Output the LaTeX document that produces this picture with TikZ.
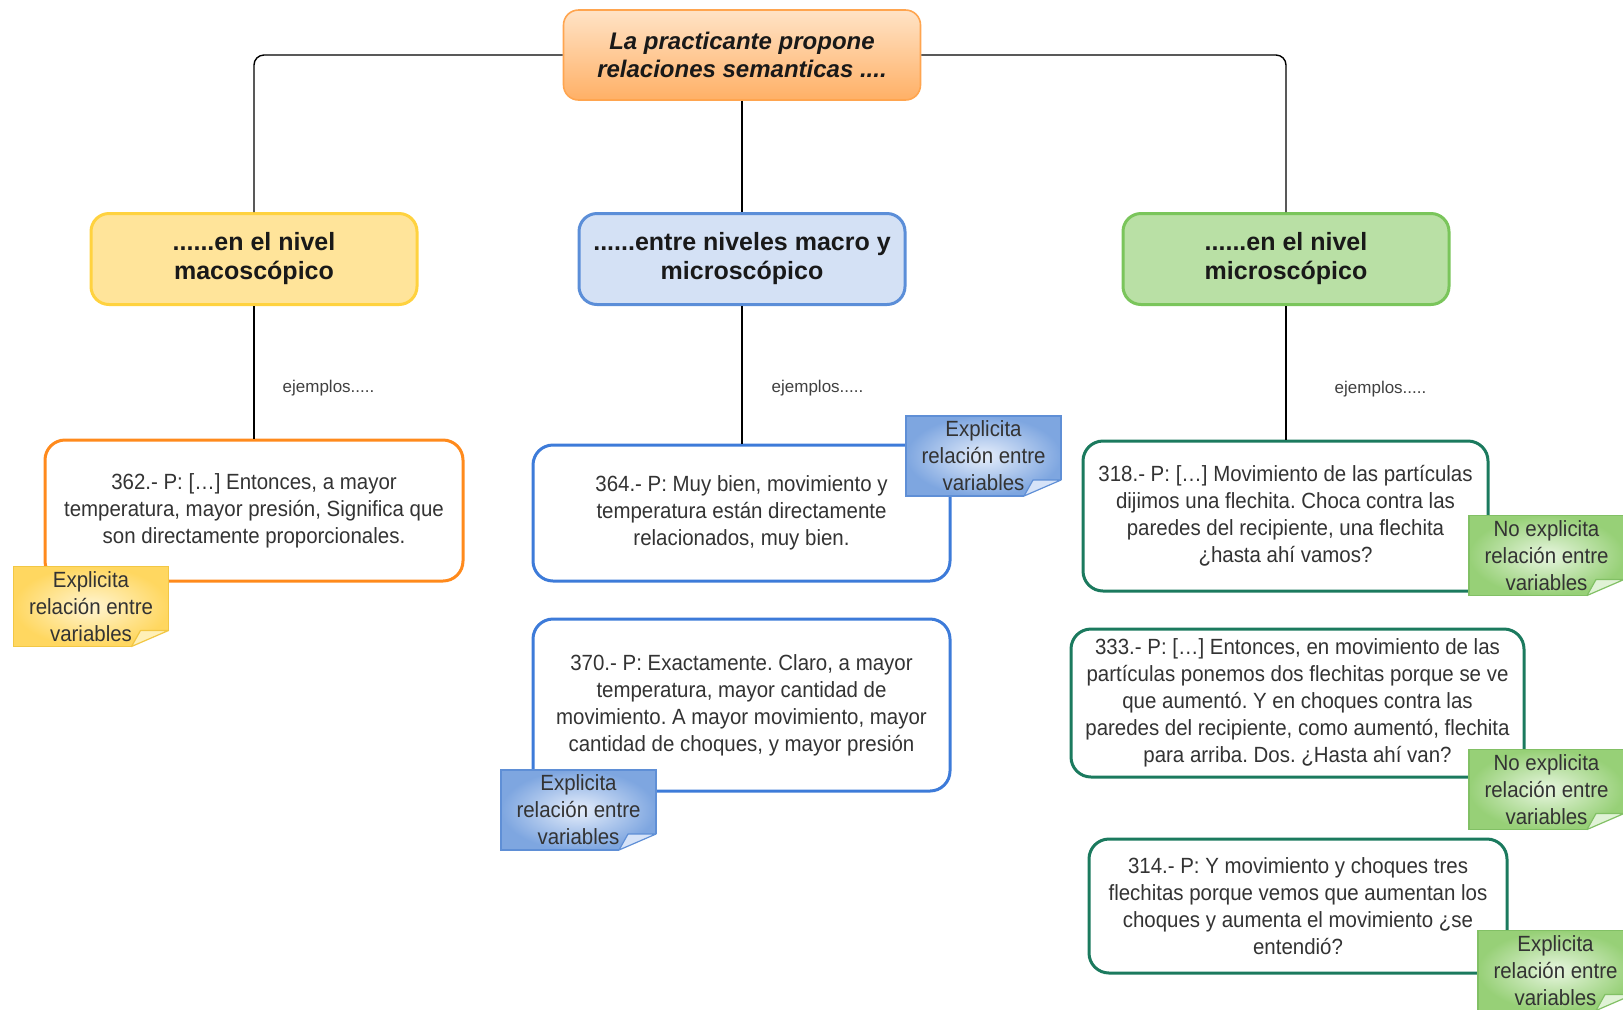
\documentclass[tikz,border=0pt]{standalone}
\usepackage{fontspec}
\setmainfont{Liberation Sans}
\newfontfamily\narrowfont[FakeStretch=0.93]{Liberation Sans}
\usepackage{tikz}
\usetikzlibrary{positioning}
\usepackage{xcolor}
\frenchspacing

\definecolor{topline}{HTML}{FFA54F}
\definecolor{topfillA}{HTML}{FFE3C6}
\definecolor{topfillB}{HTML}{FFB066}
\definecolor{macroline}{HTML}{FFD23F}
\definecolor{macrofill}{HTML}{FFE49A}
\definecolor{bothline}{HTML}{5B8ED8}
\definecolor{bothfill}{HTML}{D4E1F5}
\definecolor{microline}{HTML}{7AC55B}
\definecolor{microfill}{HTML}{B9E0A5}
\definecolor{quoteorange}{HTML}{FF8A1C}
\definecolor{quoteblue}{HTML}{3D7BD9}
\definecolor{quotegreen}{HTML}{1B7A5E}
\definecolor{lineY}{HTML}{F2C744}
\definecolor{innerY}{HTML}{FFF5D2}
\definecolor{outerY}{HTML}{FFD760}
\definecolor{foldY}{HTML}{FFF0B8}
\definecolor{lineB}{HTML}{5F8FD6}
\definecolor{innerB}{HTML}{E6EEFB}
\definecolor{outerB}{HTML}{7EA6E0}
\definecolor{foldB}{HTML}{D6E3F8}
\definecolor{lineG}{HTML}{82C065}
\definecolor{innerG}{HTML}{E8F6E0}
\definecolor{outerG}{HTML}{97D077}
\definecolor{foldG}{HTML}{E0F2D6}

\begin{document}
\begin{tikzpicture}[x=0.5pt, y=-0.5pt]
    \tikzstyle{topbox} = [rectangle, draw=topline, line width=0.8pt, top color=topfillA, bottom color=topfillB, rounded corners=7.5pt, minimum width=178.5pt, minimum height=45pt, align=center, text=black!90, font=\fontsize{12}{14}\selectfont\bfseries\itshape]
    \tikzstyle{levelbox} = [rectangle, line width=1.5pt, rounded corners=9pt, minimum width=163pt, minimum height=45.5pt, align=center, text=black!90, font=\fontsize{12.5}{14.5}\selectfont\bfseries]
    \tikzstyle{quotebox} = [rectangle, fill=white, line width=1.5pt, rounded corners=10pt, align=center, text=black!80, font=\narrowfont\fontsize{11}{13.5}\selectfont]
    \tikzstyle{notebox} = [rectangle, line width=0.6pt, minimum width=77.5pt, minimum height=40pt, inner sep=0pt, outer sep=0pt, align=center, text=black!80, font=\narrowfont\fontsize{11}{13.5}\selectfont]
    \tikzstyle{link} = [draw, line width=0.7pt, rounded corners=5pt]
    \tikzstyle{lbl} = [anchor=west, inner sep=0pt, text=black!75, font=\fontsize{8.5}{10}\selectfont]

    \clip (0,0) rectangle (1623,1009);

    % main node and levels
    \node[topbox] (top) at (742,55) {La practicante propone\\relaciones semanticas ....};
    \node[levelbox, draw=macroline, fill=macrofill] (macro) at (254,259) {......en el nivel\\macoscópico};
    \node[levelbox, draw=bothline, fill=bothfill] (both) at (742,259) {......entre niveles macro y\\microscópico};
    \node[levelbox, draw=microline, fill=microfill] (micro) at (1286,259) {......en el nivel\\microscópico};

    % examples
    \node[quotebox, draw=quoteorange, minimum width=209pt, minimum height=70.5pt] (q362) at (254,510.5) {362.- P: […] Entonces, a mayor\\temperatura, mayor presión, Significa que\\son directamente proporcionales.};
    \node[quotebox, draw=quoteblue, minimum width=208.5pt, minimum height=68pt] (q364) at (741.5,513) {364.- P: Muy bien, movimiento y\\temperatura están directamente\\relacionados, muy bien.};
    \node[quotebox, draw=quoteblue, minimum width=208.5pt, minimum height=86pt] (q370) at (741.5,705) {370.- P: Exactamente. Claro, a mayor\\temperatura, mayor cantidad de\\movimiento. A mayor movimiento, mayor\\cantidad de choques, y mayor presión};
    \node[quotebox, draw=quotegreen, minimum width=202.5pt, minimum height=75pt] (q318) at (1285.5,516) {318.- P: […] Movimiento de las partículas\\dijimos una flechita. Choca contra las\\paredes del recipiente, una flechita\\¿hasta ahí vamos?};
    \node[quotebox, draw=quotegreen, minimum width=226.5pt, minimum height=74pt] (q333) at (1297.5,703) {333.- P: […] Entonces, en movimiento de las\\partículas ponemos dos flechitas porque se ve\\que aumentó. Y en choques contra las\\paredes del recipiente, como aumentó, flechita\\para arriba. Dos. ¿Hasta ahí van?};
    \node[quotebox, draw=quotegreen, minimum width=209pt, minimum height=67pt] (q314) at (1298,906) {314.- P: Y movimiento y choques tres\\flechitas porque vemos que aumentan los\\choques y aumenta el movimiento ¿se\\entendió?};

    % notes
    \node[notebox, draw=lineY, inner color=innerY, outer color=outerY] (nA) at (91,606.5) {Explicita\\relación entre\\variables};
    \node[notebox, draw=lineB, inner color=innerB, outer color=outerB] (nB) at (983.5,456) {Explicita\\relación entre\\variables};
    \node[notebox, draw=lineB, inner color=innerB, outer color=outerB] (nC) at (578.5,810) {Explicita\\relación entre\\variables};
    \node[notebox, draw=lineG, inner color=innerG, outer color=outerG] (nD) at (1546.5,555.5) {No explicita\\relación entre\\variables};
    \node[notebox, draw=lineG, inner color=innerG, outer color=outerG] (nE) at (1546.5,789.5) {No explicita\\relación entre\\variables};
    \node[notebox, draw=lineG, inner color=innerG, outer color=outerG] (nF) at (1555.5,970.5) {Explicita\\relación entre\\variables};

    % folded corners
    \foreach \n/\c in {nA/Y, nB/B, nC/B, nD/G, nE/G, nF/G} {
        \fill[white] ([xshift=-18.5pt, yshift=-1pt]\n.south east) -- ([xshift=1pt, yshift=-1pt]\n.south east) -- ([xshift=1pt, yshift=8pt]\n.south east) -- ([yshift=8pt]\n.south east) -- ([xshift=-18.5pt]\n.south east) -- cycle;
        \filldraw[draw=line\c, fill=fold\c, line width=0.6pt, line join=round] ([xshift=-18.5pt]\n.south east) -- ([xshift=-14pt, yshift=8pt]\n.south east) -- ([yshift=8pt]\n.south east) -- cycle;
    }

    % connectors
    \path[link] (top.west) -| (macro.north);
    \path[link] (top.south) -- (both.north);
    \path[link] (top.east) -| (micro.north);
    \path[link] (macro.south) -- node[lbl, pos=0.62, xshift=14pt] {ejemplos.....} (macro.south |- q362.north);
    \path[link] (both.south) -- node[lbl, pos=0.6, xshift=14.5pt] {ejemplos.....} (both.south |- q364.north);
    \path[link] (micro.south) -- node[lbl, pos=0.62, xshift=24pt] {ejemplos.....} (micro.south |- q318.north);
\end{tikzpicture}
\end{document}
